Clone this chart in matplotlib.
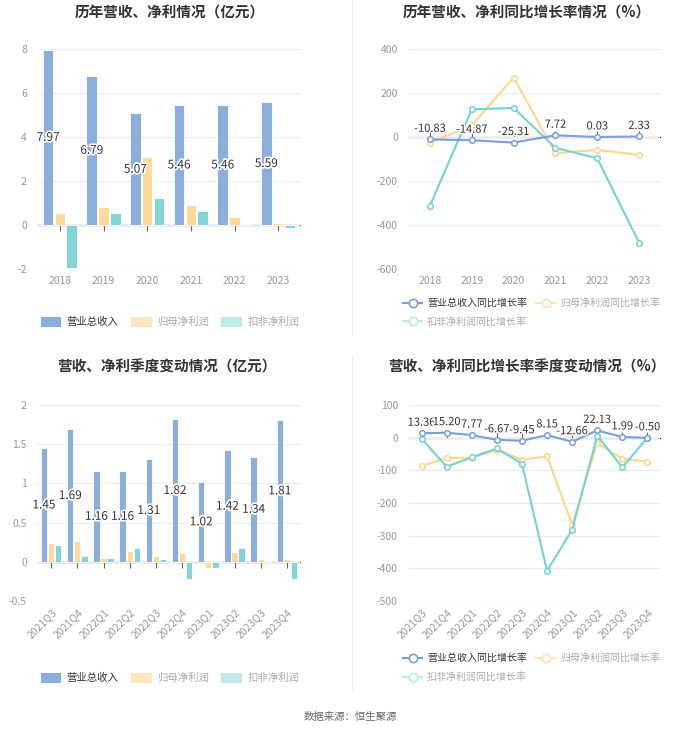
import matplotlib
matplotlib.use('Agg')
import matplotlib.pyplot as plt
import matplotlib.patheffects as pe
from matplotlib.patches import Patch
from matplotlib.lines import Line2D
import numpy as np

plt.rcParams['font.family'] = ['Noto Sans CJK SC', 'DejaVu Sans']
plt.rcParams['axes.unicode_minus'] = False

# =====================
# DATA
# =====================
years = ['2018', '2019', '2020', '2021', '2022', '2023']
rev_year = [7.97, 6.79, 5.07, 5.46, 5.46, 5.59]
np_year = [0.55, 0.83, 3.10, 0.90, 0.37, 0.07]
dnp_year = [-1.95, 0.53, 1.22, 0.65, 0.03, -0.12]

rev_yoy = [-10.83, -14.87, -25.31, 7.72, 0.03, 2.33]
np_yoy = [-26, 53, 270, -73, -59, -81]
dnp_yoy = [-312, 126, 132, -49, -97, -481]

quarters = ['2021Q3', '2021Q4', '2022Q1', '2022Q2', '2022Q3',
            '2022Q4', '2023Q1', '2023Q2', '2023Q3', '2023Q4']
rev_q = [1.45, 1.69, 1.16, 1.16, 1.31, 1.82, 1.02, 1.42, 1.34, 1.81]
np_q = [0.24, 0.27, 0.05, 0.14, 0.08, 0.11, -0.085, 0.12, 0.03, 0.03]
dnp_q = [0.21, 0.07, 0.05, 0.17, 0.04, -0.22, -0.085, 0.17, 0.0, -0.22]

rev_q_yoy = [13.36, 15.20, 7.77, -6.67, -9.45, 8.15, -12.66, 22.13, 1.99, -0.50]
np_q_yoy = [-87, -62, -62, -38, -67, -57, -266, -16, -65, -73]
dnp_q_yoy = [-3, -89, -60, -33, -80, -408, -282, 6, -91, 0]

# =====================
# STYLE
# =====================
BLUE = '#8CAEDB'
ORANGE = '#FFD99A'
TEAL = '#82D5D6'
L_BLUE = '#7B9FD9'
L_ORANGE = '#FFD68F'
L_TEAL = '#74D2D3'
GRID = '#E6EBF5'
TICK = '#999999'
W, H = 700, 734

fig = plt.figure(figsize=(7, 7.34), dpi=100)


def px_axes(x0, y0, x1, y1):
    return fig.add_axes([x0 / W, 1 - y1 / H, (x1 - x0) / W, (y1 - y0) / H])


def style_axes(ax, ylim, yticks, cats, rotate=False):
    ax.set_ylim(*ylim)
    ax.set_xlim(-0.5, len(cats) - 0.5)
    ax.set_yticks(yticks)
    ax.set_yticklabels(['{:g}'.format(t) for t in yticks])
    for s in ax.spines.values():
        s.set_visible(False)
    ax.grid(axis='y', color=GRID, linewidth=0.8)
    ax.set_axisbelow(True)
    ax.tick_params(axis='y', length=0, colors=TICK, labelsize=7.5, pad=8)
    ax.set_xticks(range(len(cats)))
    if rotate:
        ax.set_xticklabels(cats, rotation=45, ha='right', rotation_mode='anchor')
        ax.tick_params(axis='x', length=0, colors=TICK, labelsize=7.5, pad=4)
    else:
        ax.set_xticklabels(cats)
        ax.tick_params(axis='x', length=0, colors=TICK, labelsize=7.5, pad=5)
    # zero line with small ticks
    frac = (0 - ylim[0]) / (ylim[1] - ylim[0])
    sec = ax.secondary_xaxis(frac)
    sec.set_xticks(range(len(cats)))
    sec.set_xticklabels([])
    sec.tick_params(length=4, color='#666666', width=0.8)
    sec.spines['bottom'].set_color('#666666')
    sec.spines['bottom'].set_linewidth(0.9)


def bars(ax, rev, np_, dnp, width, off):
    x = np.arange(len(rev))
    ax.bar(x - off, rev, width, color=BLUE, edgecolor='white', linewidth=0.6, zorder=3)
    ax.bar(x, np_, width, color=ORANGE, edgecolor='white', linewidth=0.6, zorder=3)
    ax.bar(x + off, dnp, width, color=TEAL, edgecolor='white', linewidth=0.6, zorder=3)
    for i, v in enumerate(rev):
        ax.text(i - off, v / 2, '{:.2f}'.format(v), ha='center', va='center',
                fontsize=8.5, color='#333333', zorder=5,
                path_effects=[pe.withStroke(linewidth=2.5, foreground='white')])


def lines(ax, rev, np_, dnp):
    x = np.arange(len(rev))
    mk = dict(marker='o', markersize=4, markerfacecolor='white', markeredgewidth=1.1)
    ax.plot(x, np_, color=L_ORANGE, linewidth=1.5, markeredgecolor=L_ORANGE, zorder=3, **mk)
    ax.plot(x, dnp, color=L_TEAL, linewidth=1.5, markeredgecolor=L_TEAL, zorder=4, **mk)
    ax.plot(x, rev, color=L_BLUE, linewidth=1.5, markeredgecolor=L_BLUE, zorder=5, **mk)
    for i, v in enumerate(rev):
        ax.annotate('{:.2f}'.format(v), (i, v), xytext=(0, 4), textcoords='offset points',
                    ha='center', va='bottom', fontsize=8, color='#333333', zorder=6,
                    path_effects=[pe.withStroke(linewidth=2, foreground='white')])


def add_bar_legend(cx, y):
    h = [Patch(facecolor=BLUE, edgecolor='none'),
         Patch(facecolor='#FFE6BE', edgecolor='none'),
         Patch(facecolor='#BFEAEA', edgecolor='none')]
    l = ['营业总收入', '归母净利润', '扣非净利润']
    leg = fig.legend(h, l, loc='center', bbox_to_anchor=(cx / W, 1 - y / H), ncol=3,
                     frameon=False, fontsize=7.5, handlelength=2.0, handleheight=1.1,
                     columnspacing=1.2, handletextpad=0.5)
    for i, t in enumerate(leg.get_texts()):
        t.set_color('#333333' if i == 0 else '#AAAAAA')


def add_line_legend(x0, y):
    mk = dict(marker='o', markersize=6, markerfacecolor='white', markeredgewidth=1.2, linewidth=1.5)
    h = [Line2D([], [], color=L_BLUE, markeredgecolor=L_BLUE, **mk),
         Line2D([], [], color='#FFE3B5', markeredgecolor='#FFE3B5', **mk),
         Line2D([], [], color='#BDEAEA', markeredgecolor='#BDEAEA', **mk)]
    l = ['营业总收入同比增长率', '归母净利润同比增长率', '扣非净利润同比增长率']
    leg = fig.legend(h[:2], l[:2], loc='center left', bbox_to_anchor=(x0 / W, 1 - y / H), ncol=2,
                     frameon=False, fontsize=7.2, handlelength=1.9, columnspacing=0.9,
                     handletextpad=0.5, borderaxespad=0, borderpad=0)
    leg.get_texts()[0].set_color('#333333')
    leg.get_texts()[1].set_color('#AAAAAA')
    leg2 = fig.legend(h[2:], l[2:], loc='center left', bbox_to_anchor=(x0 / W, 1 - (y + 19) / H),
                      frameon=False, fontsize=7.2, handlelength=1.9, handletextpad=0.5,
                      borderaxespad=0, borderpad=0)
    leg2.get_texts()[0].set_color('#AAAAAA')


# =====================
# CHART 1: yearly revenue / profit
# =====================
ax1 = px_axes(38, 49, 300, 269)
bars(ax1, rev_year, np_year, dnp_year, 0.24, 0.27)
style_axes(ax1, (-2, 8), [-2, 0, 2, 4, 6, 8], years)
fig.text(170 / W, 1 - 13 / H, '历年营收、净利情况（亿元）', ha='center', va='center',
         fontsize=10.5, fontweight='bold', color='#333333')
add_bar_legend(170, 322)

# =====================
# CHART 2: yearly growth
# =====================
ax2 = px_axes(409, 49, 660, 269)
lines(ax2, rev_yoy, np_yoy, dnp_yoy)
style_axes(ax2, (-600, 400), [-600, -400, -200, 0, 200, 400], years)
fig.text(527 / W, 1 - 13 / H, '历年营收、净利同比增长率情况（%）', ha='center', va='center',
         fontsize=10.5, fontweight='bold', color='#333333')
add_line_legend(403, 303)

# =====================
# CHART 3: quarterly revenue / profit
# =====================
ax3 = px_axes(38, 405, 300, 601)
bars(ax3, rev_q, np_q, dnp_q, 0.24, 0.27)
style_axes(ax3, (-0.5, 2), [-0.5, 0, 0.5, 1, 1.5, 2], quarters, rotate=True)
fig.text(167 / W, 1 - 367 / H, '营收、净利季度变动情况（亿元）', ha='center', va='center',
         fontsize=10.5, fontweight='bold', color='#333333')
add_bar_legend(170, 678)

# =====================
# CHART 4: quarterly growth
# =====================
ax4 = px_axes(409, 405, 660, 601)
lines(ax4, rev_q_yoy, np_q_yoy, dnp_q_yoy)
style_axes(ax4, (-500, 100), [-500, -400, -300, -200, -100, 0, 100], quarters, rotate=True)
fig.text(527 / W, 1 - 367 / H, '营收、净利同比增长率季度变动情况（%）', ha='center', va='center',
         fontsize=10.5, fontweight='bold', color='#333333')
add_line_legend(403, 658)

# divider + source
fig.add_artist(Line2D([352 / W, 352 / W], [1 - 0 / H, 1 - 335 / H], color='#EEEEEE', linewidth=0.8))
fig.add_artist(Line2D([352 / W, 352 / W], [1 - 355 / H, 1 - 690 / H], color='#EEEEEE', linewidth=0.8))
fig.text(0.5, 1 - 717 / H, '数据来源：恒生聚源', ha='center', va='center', fontsize=7.5, color='#666666')

fig.savefig('out.png', dpi=100, facecolor='white')
